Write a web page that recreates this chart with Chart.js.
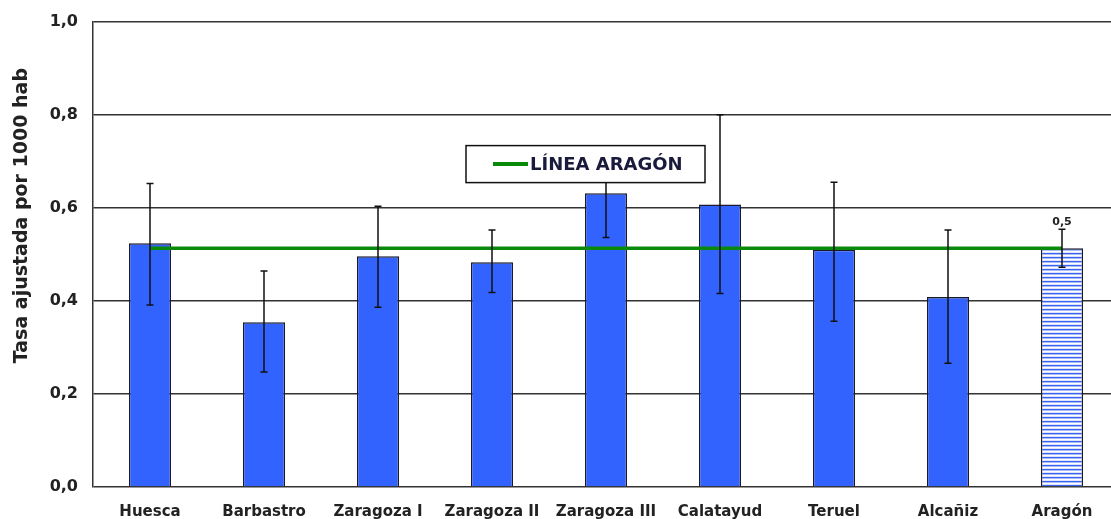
<!DOCTYPE html>
<html>
<head>
<meta charset="utf-8">
<script src="https://cdn.jsdelivr.net/npm/chart.js@4/dist/chart.umd.min.js"></script>
<style>
    html, body { margin: 0; padding: 0; background: #fff; overflow: hidden; }
    #wrap { width: 1119px; height: 522px; margin-top: -3px; }
</style>
</head>
<body>
<div id="wrap"><canvas id="tasaChart" width="1119" height="522"></canvas></div>
<script>
const areas = ['Huesca', 'Barbastro', 'Zaragoza I', 'Zaragoza II', 'Zaragoza III', 'Calatayud', 'Teruel', 'Alcañiz', 'Aragón'];
const tasa = [0.524, 0.354, 0.496, 0.483, 0.631, 0.607, 0.51, 0.408, 0.513];
const icLower = [0.391, 0.247, 0.386, 0.418, 0.536, 0.416, 0.356, 0.266, 0.472];
const icUpper = [0.652, 0.464, 0.603, 0.552, 0.726, 0.800, 0.655, 0.552, 0.554];
const lineaAragon = [0.513, 0.513, 0.513, 0.513, 0.513, 0.513, 0.513, 0.513, 0.513];
const yTicks = [0, 0.2, 0.4, 0.6, 0.8, 1.0];
const yTitle = 'Tasa ajustada por 1000 hab';

const FONT = "'DejaVu Sans', sans-serif";
const fmt = v => v.toFixed(1).replace('.', ',');

function stripes() {
    const c = document.createElement('canvas');
    c.width = 6; c.height = 4;
    const g = c.getContext('2d');
    const rows = ['#3a63f2', '#a9bbf9', '#ffffff', '#dde5fd'];
    rows.forEach((col, r) => { g.fillStyle = col; g.fillRect(0, r, 6, 1); });
    return g.createPattern(c, 'repeat');
}

// error bars + value label over Aragón
const errorBars = {
    id: 'errorBars',
    afterDatasetsDraw(chart) {
        const { ctx, scales: { x, y } } = chart;
        ctx.save();
        ctx.strokeStyle = '#111';
        ctx.lineWidth = 1.5;
        icLower.forEach((lo, i) => {
            const px = x.getPixelForValue(i);
            const yl = y.getPixelForValue(lo);
            const yu = y.getPixelForValue(icUpper[i]);
            ctx.beginPath();
            ctx.moveTo(px, yl); ctx.lineTo(px, yu);
            ctx.moveTo(px - 3.5, yl); ctx.lineTo(px + 3.5, yl);
            ctx.moveTo(px - 3.5, yu); ctx.lineTo(px + 3.5, yu);
            ctx.stroke();
        });
        const last = tasa.length - 1;
        ctx.fillStyle = '#222';
        ctx.font = 'bold 11px ' + FONT;
        ctx.textAlign = 'center';
        ctx.textBaseline = 'middle';
        ctx.fillText(fmt(tasa[last]), x.getPixelForValue(last), y.getPixelForValue(icUpper[last]) - 7);
        ctx.restore();
    }
};

// legend box inside the plot, and the y title (sits above centre in the original)
const boxLegend = {
    id: 'boxLegend',
    afterDatasetsDraw(chart) {
        const { ctx, chartArea } = chart;
        const ds = chart.data.datasets[0];
        const bx = 466, by = chartArea.top + 124, bw = 239, bh = 37;
        ctx.save();
        ctx.fillStyle = '#fff';
        ctx.fillRect(bx, by, bw, bh);
        ctx.strokeStyle = '#111';
        ctx.lineWidth = 1.5;
        ctx.strokeRect(bx, by, bw, bh);
        ctx.strokeStyle = ds.borderColor;
        ctx.lineWidth = 4;
        ctx.beginPath();
        ctx.moveTo(493, by + bh / 2);
        ctx.lineTo(528, by + bh / 2);
        ctx.stroke();
        ctx.fillStyle = '#1a1a3a';
        ctx.font = 'bold 18px ' + FONT;
        ctx.textAlign = 'left';
        ctx.textBaseline = 'middle';
        ctx.fillText(ds.label, 530, by + bh / 2 + 1);

        ctx.translate(22, chartArea.top + 194);
        ctx.rotate(-Math.PI / 2);
        ctx.fillStyle = '#222';
        ctx.font = 'bold 19px ' + FONT;
        ctx.textAlign = 'center';
        ctx.fillText(yTitle, 0, 0);
        ctx.restore();
    }
};

const ctx = document.getElementById('tasaChart').getContext('2d');
const barColors = areas.map((a, i) => i === areas.length - 1 ? stripes() : '#3363ff');

new Chart(ctx, {
    data: {
        labels: areas,
        datasets: [
            {
                type: 'line',
                label: 'LÍNEA ARAGÓN',
                data: lineaAragon,
                borderColor: '#0a8a0a',
                borderWidth: 3.5,
                pointRadius: 0,
                fill: false,
                order: 0
            },
            {
                type: 'bar',
                label: 'Tasa',
                data: tasa,
                backgroundColor: barColors,
                borderColor: '#1a1a2a',
                borderWidth: 1.5,
                categoryPercentage: 1,
                barPercentage: 0.37,
                order: 1
            }
        ]
    },
    options: {
        responsive: false,
        animation: false,
        layout: { padding: { top: 18, right: 0, bottom: 0, left: 0 } },
        plugins: {
            legend: { display: false },
            tooltip: { enabled: false }
        },
        scales: {
            x: {
                grid: { display: false },
                border: { display: false },
                ticks: {
                    color: '#222',
                    font: { family: FONT, size: 15, weight: 'bold' },
                    padding: 8,
                    maxRotation: 0,
                    autoSkip: false
                },
                afterFit: s => { s.height = 32; }
            },
            y: {
                min: 0,
                max: 1,
                afterBuildTicks: s => { s.ticks = yTicks.map(v => ({ value: v })); },
                grid: { color: '#333', lineWidth: 1.5, drawTicks: false },
                border: { display: true, color: '#333', width: 1.5 },
                ticks: {
                    color: '#222',
                    font: { family: FONT, size: 16, weight: 'bold' },
                    padding: 15,
                    callback: v => fmt(v)
                },
                afterFit: s => { s.width = 93; }
            }
        }
    },
    plugins: [errorBars, boxLegend]
});
</script>
</body>
</html>
